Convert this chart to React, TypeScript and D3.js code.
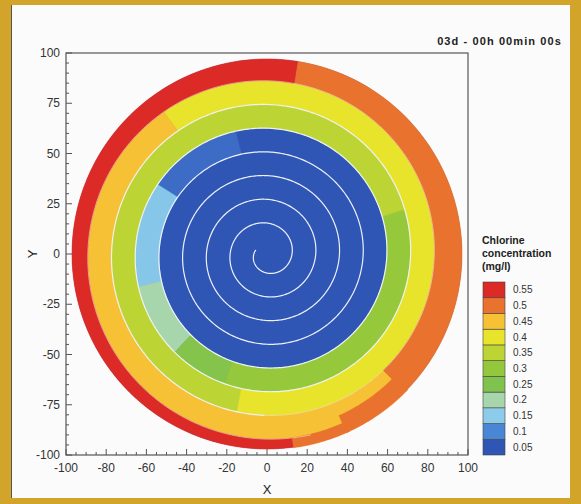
import React from 'react';
import * as d3 from 'd3';

// ---- data ----
const levels = [0.05, 0.1, 0.15, 0.2, 0.25, 0.3, 0.35, 0.4, 0.45, 0.5, 0.55];
const levelLabels = ['0.05', '0.1', '0.15', '0.2', '0.25', '0.3', '0.35', '0.4', '0.45', '0.5', '0.55'];
const levelColors = ['#2f56b4', '#4a86d6', '#8ccbea', '#a8d6ac', '#7fc24e', '#94c83c', '#bcd535', '#e8e42c', '#f7c135', '#e8722e', '#dc2a27'];
const fieldColors = ['#2f56b4', '#3d6cc6', '#86c6e8', '#a8d6ac', '#84c44c', '#96c83c', '#bcd535', '#e8e42c', '#f7c135', '#e8722e', '#dc2a27'];

const xTicks = [-100, -80, -60, -40, -20, 0, 20, 40, 60, 80, 100];
const yTicks = [-100, -75, -50, -25, 0, 25, 50, 75, 100];
const legendTitle = ['Chlorine', 'concentration', '(mg/l)'];
const timeLabel = '03d - 00h 00min 00s';

// spiral reactor geometry (data units)
const diskR = 97;
const spiralR0 = 9.5;      // wall radius at turn 0 (bottom)
const spiralPitch = 11.8;  // radial gain per turn
const spiralStartAngle = -90; // degrees, turn 0
const wallStart = -0.3;
const wallEnd = 7.04;

// concentration along the spiral channel: turn ranges and level index
const segStart = [-0.4, 3.54, 3.66, 3.79, 3.88, 3.95, 4.3, 4.97, 5.6, 6.125, 6.475];
const segEnd = [3.54, 3.66, 3.79, 3.88, 3.95, 4.3, 4.97, 5.6, 6.125, 6.475, 7.022];
const segLevel = [0, 1, 2, 3, 4, 5, 6, 7, 8, 9, 10];

// extra patches near the inlet (annular sectors): r0, r1, a0, a1 (deg), level
const patchR0 = [92.2, 88];
const patchR1 = [97.3, 97.3];
const patchA0 = [-82.2, -66];
const patchA1 = [-65, -44];
const patchLevel = [9, 9];

export default function App() {
  const W = 581, H = 504;
  const x = d3.scaleLinear().domain([-100, 100]).range([66, 468]);
  const y = d3.scaleLinear().domain([-100, 100]).range([455, 53]);
  const rad = (d: number) => (d * Math.PI) / 180;
  const toXY = (r: number, deg: number): [number, number] => [x(r * Math.cos(rad(deg))), y(r * Math.sin(rad(deg)))];
  const wall = (k: number) => spiralR0 + spiralPitch * k;
  const ang = (k: number) => spiralStartAngle + 360 * k;
  const outerR = (k: number) => (k + 1 <= wallEnd ? wall(k + 1) : diskR);
  const line = d3.line();

  const segPath = (k0: number, k1: number) => {
    const n = Math.max(2, Math.ceil((k1 - k0) / 0.003));
    const ks: number[] = d3.range(n + 1).map((i) => k0 + ((k1 - k0) * i) / n);
    const split = wallEnd - 1;
    if (split > k0 && split < k1) {
      ks.push(split - 1e-7, split + 1e-7);
      ks.sort((a, b) => a - b);
    }
    const inner = ks.map((k) => toXY(Math.max(0, wall(k)), ang(k)));
    const outer = ks.slice().reverse().map((k) => toXY(outerR(k), ang(k)));
    return line([...inner, ...outer]) + 'Z';
  };

  const sectorPath = (r0: number, r1: number, a0: number, a1: number) => {
    const n = 40;
    const as = d3.range(n + 1).map((i) => a0 + ((a1 - a0) * i) / n);
    const pts = [...as.map((a) => toXY(r0, a)), ...as.slice().reverse().map((a) => toXY(r1, a))];
    return line(pts) + 'Z';
  };

  const innerWall = line(d3.range(wallStart, 6.0, 0.003).map((k) => toXY(wall(k), ang(k)))) || '';
  const outerWall = line(d3.range(6.0 - 0.003, wallEnd, 0.003).map((k) => toXY(wall(k), ang(k)))) || '';

  const [cx, cy] = toXY(0, 0);
  const diskPx = x(diskR) - x(0);

  const minorX = d3.range(-100, 101, 5);
  const minorY = d3.range(-100, 101, 5);

  const legX = 483, legW = 22, legTop = 282, legBot = 455;
  const legScale = d3.scaleBand<number>().domain(d3.range(levels.length).reverse()).range([legTop, legBot]);

  const font = 'Liberation Sans, Arial, sans-serif';

  return (
    <svg width={W} height={H} style={{ position: 'absolute', left: 0, top: 0 }} fontFamily={font}>
      <rect x={0} y={0} width={W} height={H} fill="#d2a52a" />
      <rect x={11} y={5} width={559} height={493} fill="#fbfbfb" />
      <line x1={11.5} y1={5} x2={11.5} y2={498} stroke="#555" strokeWidth={1} />

      {/* field */}
      <circle cx={cx} cy={cy} r={diskPx} fill={fieldColors[0]} />
      {segStart.map((k0, i) => (
        <path key={'s' + i} d={segPath(k0, segEnd[i])} fill={fieldColors[segLevel[i]]} stroke={fieldColors[segLevel[i]]} strokeWidth={0.6} />
      ))}
      {patchR0.map((r0, i) => (
        <path key={'p' + i} d={sectorPath(r0, patchR1[i], patchA0[i], patchA1[i])} fill={fieldColors[patchLevel[i]]} stroke={fieldColors[patchLevel[i]]} strokeWidth={0.5} />
      ))}
      <path d={innerWall} fill="none" stroke="#eef2f8" strokeWidth={1.2} strokeLinecap="round" />
      <path d={outerWall} fill="none" stroke="#f6f0d8" strokeWidth={1} strokeOpacity={0.55} />

      {/* frame */}
      <rect x={66} y={53} width={402} height={402} fill="none" stroke="#555" strokeWidth={1.2} />
      {minorX.map((v) => {
        const major = xTicks.includes(v);
        return <line key={'mx' + v} x1={x(v)} x2={x(v)} y1={455} y2={455 - (major ? 6 : 3)} stroke="#555" strokeWidth={1} />;
      })}
      {minorY.map((v) => {
        const major = yTicks.includes(v);
        return <line key={'my' + v} x1={66} x2={66 + (major ? 6 : 3)} y1={y(v)} y2={y(v)} stroke="#555" strokeWidth={1} />;
      })}
      {xTicks.map((v) => (
        <text key={'tx' + v} x={x(v)} y={472} textAnchor="middle" fontSize={12} fill="#333">{String(v)}</text>
      ))}
      {yTicks.map((v) => (
        <text key={'ty' + v} x={60} y={y(v) + 4} textAnchor="end" fontSize={12} fill="#333">{String(v)}</text>
      ))}
      <text x={x(0)} y={494} textAnchor="middle" fontSize={13} fill="#222">X</text>
      <text transform={`translate(33,${y(0)}) rotate(-90)`} textAnchor="middle" fontSize={13} fill="#222" dy={4}>Y</text>

      <text x={562} y={45} textAnchor="end" fontSize={11} fontWeight="bold" letterSpacing={1.1} fill="#222">{timeLabel}</text>

      {/* legend */}
      {legendTitle.map((t, i) => (
        <text key={'lt' + i} x={482} y={244 + i * 13} fontSize={10.5} fontWeight="bold" fill="#222">{t}</text>
      ))}
      {levels.map((v, i) => (
        <g key={'lg' + i}>
          <rect x={legX} y={legScale(i)} width={legW} height={legScale.bandwidth()} fill={levelColors[i]} stroke="#444" strokeWidth={0.6} />
          <text x={513} y={(legScale(i) || 0) + legScale.bandwidth() / 2 + 3.5} fontSize={10} fill="#333">{levelLabels[i]}</text>
        </g>
      ))}
    </svg>
  );
}
